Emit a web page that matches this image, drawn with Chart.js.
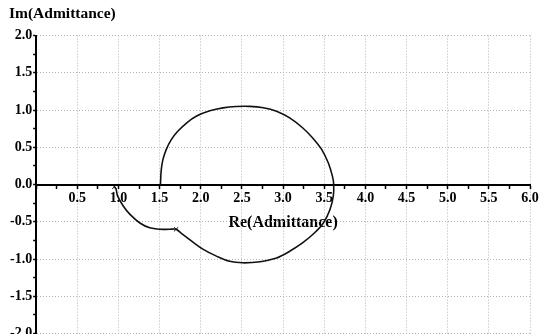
<!DOCTYPE html>
<html>
<head>
<meta charset="utf-8">
<script src="https://cdn.jsdelivr.net/npm/chart.js@4/dist/chart.umd.min.js"></script>
<style>
html,body{margin:0;padding:0;background:#fff;overflow:hidden}
#wrap{width:542px;height:334px;overflow:hidden}
</style>
</head>
<body>
<div id="wrap"><canvas id="grafico" width="542" height="343"></canvas></div>
<script>
// admittance locus (Re, Im)
const reVals=[1.51,1.52,1.54,1.58,1.64,1.72,1.83,1.95,2.11,2.27,2.43,2.59,2.76,2.92,3.08,3.24,3.36,3.47,3.55,3.60,3.615,
3.61,3.57,3.49,3.38,3.24,3.08,2.92,2.72,2.51,2.35,2.19,2.03,1.89,1.76,1.70,
1.62,1.50,1.38,1.26,1.14,1.06,0.99,0.97,0.95]
const imVals=[0,0.20,0.335,0.47,0.60,0.715,0.83,0.92,0.99,1.03,1.048,1.05,1.032,0.985,0.895,0.76,0.625,0.47,0.29,0.11,0,
-0.155,-0.335,-0.515,-0.65,-0.78,-0.895,-0.985,-1.035,-1.05,-1.03,-0.96,-0.87,-0.76,-0.65,-0.60,
-0.60,-0.60,-0.58,-0.515,-0.40,-0.29,-0.155,-0.06,-0.03]
// points that carry a small cross in the picture
const marcas=[1.70,0.95]

const xTicks=[0.5,1.0,1.5,2.0,2.5,3.0,3.5,4.0,4.5,5.0,5.5,6.0]
const yTicks=[-2.0,-1.5,-1.0,-0.5,0.0,0.5,1.0,1.5,2.0]

const serifa="'Liberation Serif','Times New Roman',serif"
const fonte={family:serifa,weight:"bold",size:14}

function ehMeio(v){return Math.abs(v*2-Math.round(v*2))<1e-9}

let pontos=reVals.map((x,i)=>({x:x,y:imVals[i]}))

let grade={
color:c=>ehMeio(c.tick.value)?"#b4b4b4":"rgba(0,0,0,0)",
lineWidth:1,
tickColor:"#000",
tickLength:3,
tickBorderDash:[4,0],
tickWidth:1.5
}

new Chart(document.getElementById("grafico"),{
type:"scatter",
data:{
datasets:[{
data:pontos,
showLine:true,
borderColor:"#111",
borderWidth:1.6,
tension:0.35,
pointStyle:"crossRot",
pointRadius:pontos.map(p=>marcas.includes(p.x)?3:0),
pointBorderColor:"#111",
pointBorderWidth:1
}]
},
options:{
responsive:false,
animation:false,
layout:{padding:{left:9,right:12,top:0,bottom:0}},
plugins:{
legend:{display:false},
tooltip:{enabled:false},
title:{
display:true,
text:"Im(Admittance)",
align:"start",
color:"#000",
font:{family:serifa,weight:"bold",size:15.5},
padding:{top:5,bottom:12}
}
},
scales:{
x:{
type:"linear",
min:0,max:6,
position:{y:0},
border:{display:true,color:"#000",width:2,dash:[1,2]},
grid:grade,
ticks:{
stepSize:0.25,
autoSkip:false,
maxRotation:0,
color:"#000",
font:fonte,
padding:2,
callback:v=>(v>0&&xTicks.some(t=>Math.abs(t-v)<1e-9))?v.toFixed(1):""
},
title:{
display:true,
text:"Re(Admittance)",
color:"#000",
font:{family:serifa,weight:"bold",size:16},
padding:{top:5,bottom:0}
}
},
y:{
type:"linear",
min:-2,max:2,
position:"left",
border:{display:true,color:"#000",width:2,dash:[1,2]},
grid:grade,
ticks:{
stepSize:0.25,
autoSkip:false,
color:"#000",
font:fonte,
padding:1,
callback:v=>yTicks.some(t=>Math.abs(t-v)<1e-9)?v.toFixed(1):""
}
}
}
}
})
</script>
</body>
</html>
